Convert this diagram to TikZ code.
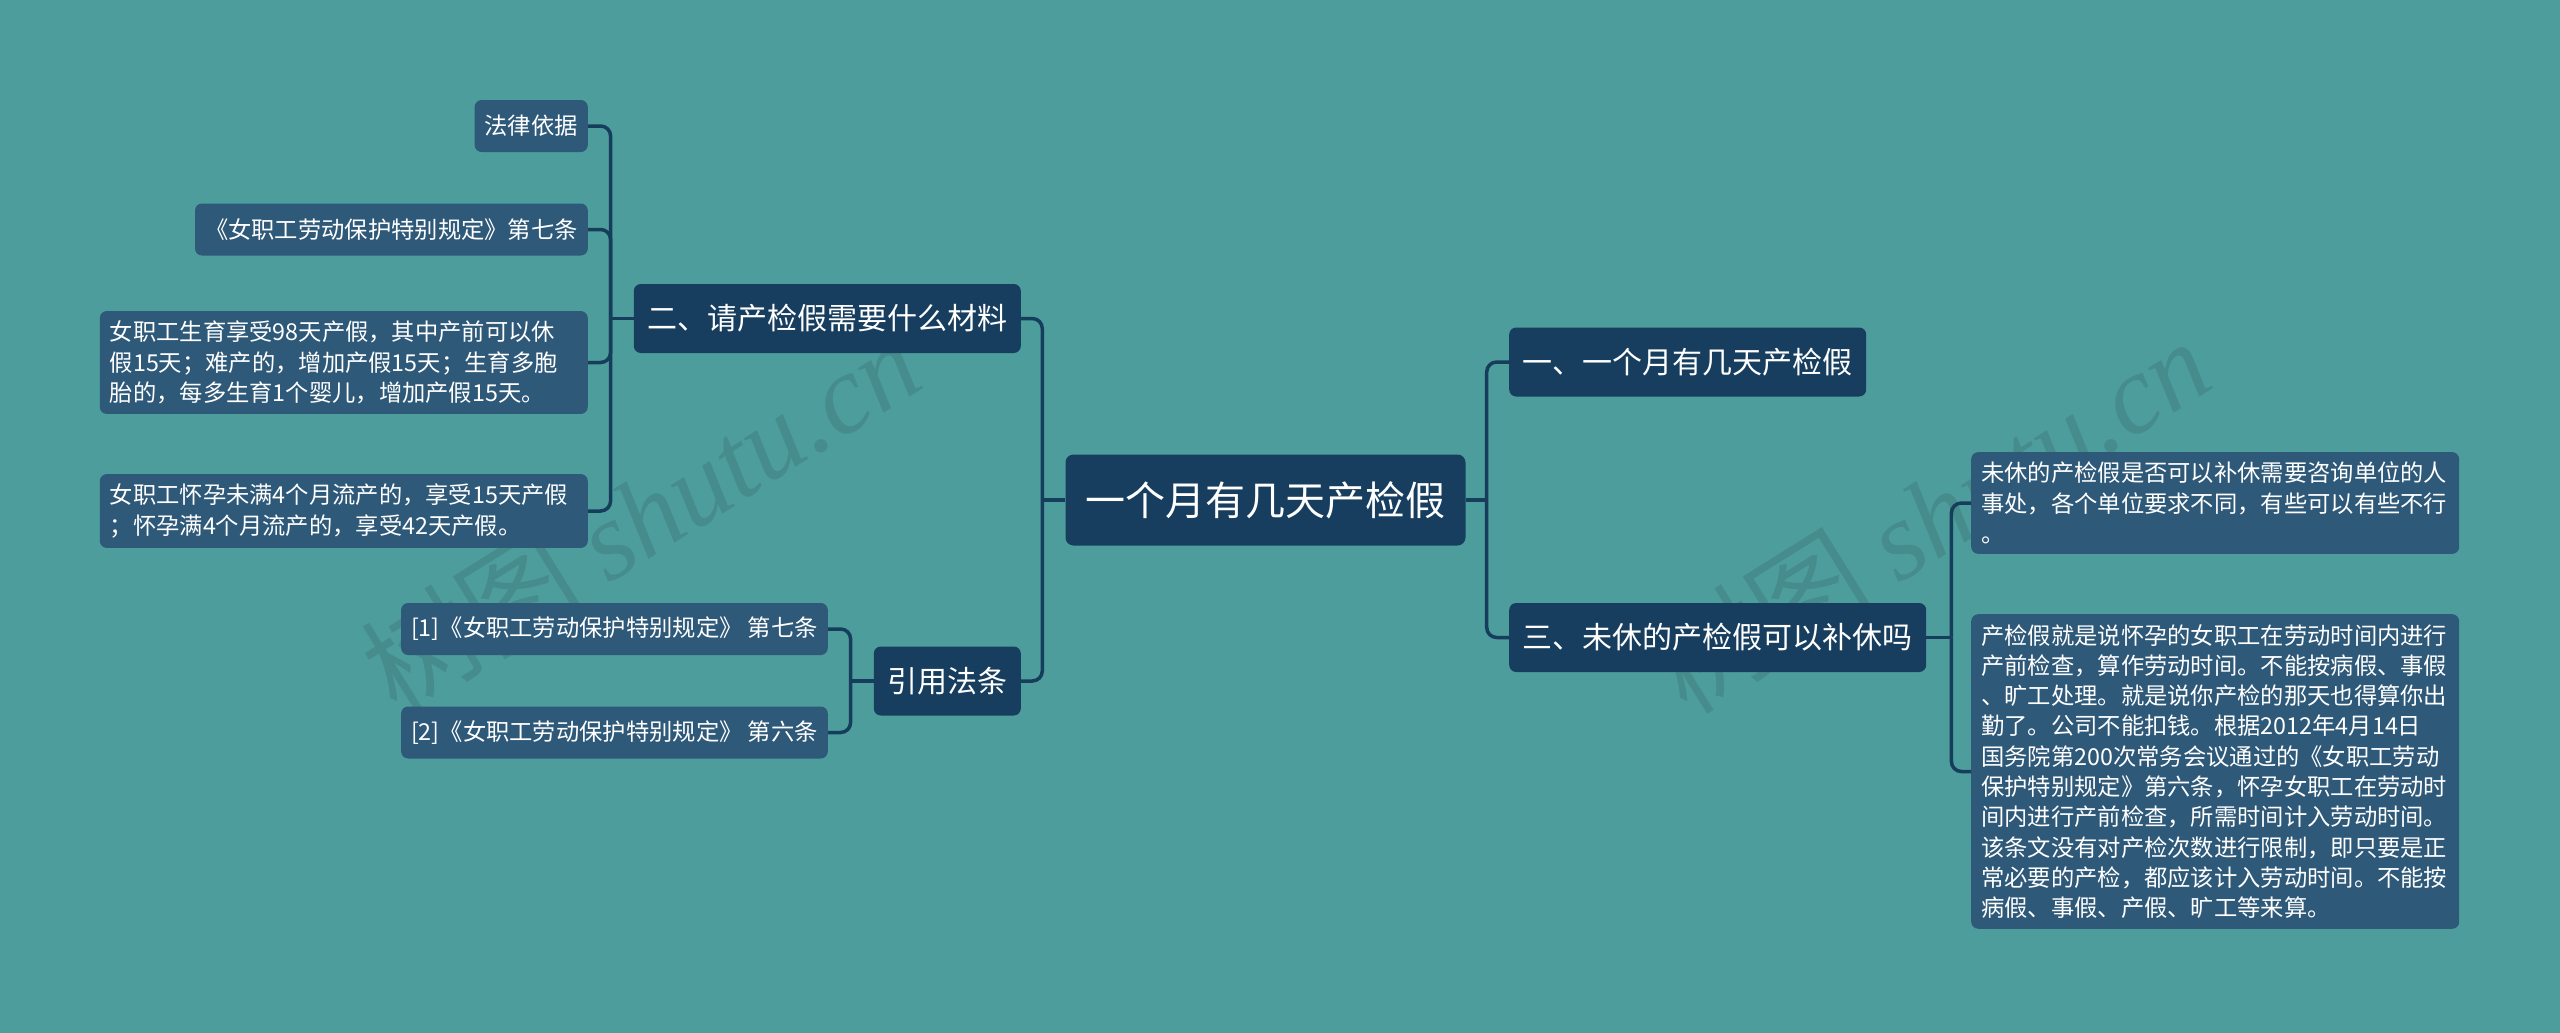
\documentclass[tikz,border=0pt]{standalone}
\usepackage{fontspec}
\setmainfont{Noto Sans CJK SC}
\newfontfamily\wmserif{Liberation Serif}
\usetikzlibrary{positioning}
\definecolor{bgteal}{HTML}{4E9D9D}
\definecolor{rootnavy}{HTML}{173E5E}
\definecolor{leafblue}{HTML}{2E5979}
\definecolor{linknavy}{HTML}{163D5B}

\begin{document}
\begin{tikzpicture}[x=1pt,y=-1pt,
  rootbox/.style={fill=rootnavy,rounded corners=8pt,text=white,inner xsep=20pt,
    minimum height=91pt,font=\fontsize{40pt}{48pt}\selectfont},
  topicbox/.style={fill=rootnavy,rounded corners=7pt,text=white,inner xsep=13.5pt,
    minimum height=69pt,font=\fontsize{30pt}{36pt}\selectfont},
  leafbox/.style={fill=leafblue,rounded corners=7pt,text=white,inner xsep=10pt,
    inner ysep=10pt,minimum height=52pt,font=\fontsize{23.3pt}{30.3pt}\selectfont},
  longleaf/.style={leafbox,text width=468pt,align=left},
  link/.style={draw=linknavy,line width=3.5pt,rounded corners=10pt},
  watermark/.style={rotate=32,text=black,opacity=0.1,font=\fontsize{112pt}{120pt}\selectfont}]
  % page
  \fill[bgteal] (0,0) rectangle (2560,1033);
  \useasboundingbox (0,0) rectangle (2560,1033);

  % watermarks
  \node[watermark] (wmleft) at (640,515) {树图 {\wmserif\itshape shutu.cn}};
  \node[watermark] (wmright) at (1930,515) {树图 {\wmserif\itshape shutu.cn}};

  % centre
  \node[rootbox] (root) at (1265.5,500) {一个月有几天产检假};

  % right side
  \node[topicbox,anchor=west] (one) at (1509,362) {一、一个月有几天产检假};
  \node[topicbox,anchor=west] (three) at (1509,637.5) {三、未休的产检假可以补休吗};
  \node[longleaf,anchor=west] (restA) at (1971,503) {未休的产检假是否可以补休需要咨询单位的人\\事处，各个单位要求不同，有些可以有些不行\\。};
  \node[longleaf,anchor=west] (restB) at (1971,771.5) {产检假就是说怀孕的女职工在劳动时间内进行\\产前检查，算作劳动时间。不能按病假、事假\\、旷工处理。就是说你产检的那天也得算你出\\勤了。公司不能扣钱。根据2012年4月14日\\国务院第200次常务会议通过的《女职工劳动\\保护特别规定》第六条，怀孕女职工在劳动时\\间内进行产前检查，所需时间计入劳动时间。\\该条文没有对产检次数进行限制，即只要是正\\常必要的产检，都应该计入劳动时间。不能按\\病假、事假、产假、旷工等来算。};

  % left side
  \node[topicbox,anchor=east] (two) at (1021,318.5) {二、请产检假需要什么材料};
  \node[topicbox,anchor=east] (cite) at (1021,681) {引用法条};
  \node[leafbox,anchor=east] (basis) at (588,126) {法律依据};
  \node[leafbox,anchor=east] (art7) at (588,229.5) {《女职工劳动保护特别规定》第七条};
  \node[longleaf,anchor=east] (birth) at (588,362.5) {女职工生育享受98天产假，其中产前可以休\\假15天；难产的，增加产假15天；生育多胞\\胎的，每多生育1个婴儿，增加产假15天。};
  \node[longleaf,anchor=east] (loss) at (588,511) {女职工怀孕未满4个月流产的，享受15天产假\\；怀孕满4个月流产的，享受42天产假。};
  \node[leafbox,anchor=east] (ref1) at (828,629) {[1]《女职工劳动保护特别规定》 第七条};
  \node[leafbox,anchor=east] (ref2) at (828,732.5) {[2]《女职工劳动保护特别规定》 第六条};

  % connectors
  \draw[link] (root.east) -- ++(21,0) coordinate (rj);
  \draw[link] (rj) |- (one.west);
  \draw[link] (rj) |- (three.west);
  \draw[link] (root.west) -- ++(-23,0) coordinate (lj);
  \draw[link] (lj) |- (two.east);
  \draw[link] (lj) |- (cite.east);

  \draw[link] (three.east) -- ++(25,0) coordinate (tj);
  \draw[link] (tj) |- (restA.west);
  \draw[link] (tj) |- (restB.west);

  \draw[link] (two.west) -- ++(-23,0) coordinate (twj);
  \foreach \leaf in {basis,art7,birth,loss}
    \draw[link] (twj) |- (\leaf.east);

  \draw[link] (cite.west) -- ++(-23,0) coordinate (cj);
  \draw[link] (cj) |- (ref1.east);
  \draw[link] (cj) |- (ref2.east);
\end{tikzpicture}
\end{document}
